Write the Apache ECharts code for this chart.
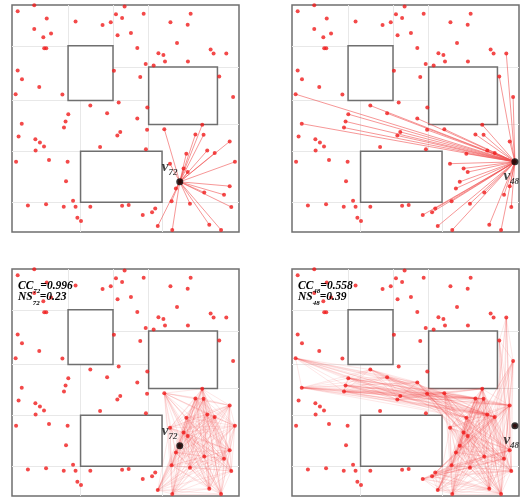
<!DOCTYPE html>
<html>
<head>
<meta charset="utf-8">
<script src="https://cdn.jsdelivr.net/npm/echarts@6/dist/echarts.min.js"></script>
<style>
html, body { margin: 0; padding: 0; background: #fff; }
#chart { width: 521px; height: 501px; }
</style>
</head>
<body>
<div id="chart"></div>
<script>
// node positions inside the square field (0..100), y measured downward; ids are 1-based
var points = [
  [2.5, 2.8], [9.8, 0.1], [15.3, 5.9], [9.8, 10.6], [13.8, 14.2], [17.2, 12.6], [28.0, 7.3], [39.9, 8.8], [43.5, 7.6], [45.8, 4.1],
  [48.5, 5.7], [49.6, 0.7], [46.5, 13.3], [52.4, 12.3], [58.0, 3.8], [55.2, 18.9], [69.8, 7.6], [78.7, 3.8], [77.4, 8.7], [72.7, 16.7],
  [64.5, 21.3], [66.7, 22.0], [67.4, 24.9], [58.9, 26.0], [62.4, 26.7], [77.5, 24.9], [87.5, 19.6], [88.8, 21.4], [94.4, 21.4], [14.2, 19.1],
  [15.1, 19.1], [2.5, 28.9], [4.4, 32.7], [12.0, 36.1], [1.6, 39.3], [22.2, 39.4], [44.9, 29.0], [56.5, 31.7], [91.3, 31.5], [97.4, 40.5],
  [34.5, 44.3], [47.0, 43.0], [41.9, 47.7], [59.6, 45.2], [55.2, 50.0], [24.8, 48.1], [23.6, 51.3], [22.9, 54.0], [4.3, 52.3], [2.9, 57.9],
  [10.3, 59.1], [12.3, 60.6], [14.1, 62.3], [10.4, 64.1], [47.7, 55.9], [46.4, 57.5], [38.8, 62.6], [59.0, 63.6], [59.5, 55.0], [67.1, 54.7],
  [83.8, 52.8], [80.8, 57.0], [84.4, 57.2], [95.9, 60.1], [86.0, 64.1], [89.3, 65.2], [98.2, 69.1], [76.8, 65.5], [69.6, 69.9], [75.6, 72.0],
  [77.4, 73.6], [73.9, 77.9], [72.2, 80.8], [1.8, 69.1], [16.3, 68.3], [24.5, 69.1], [23.8, 77.6], [26.9, 86.2], [28.0, 88.9], [22.8, 88.9],
  [15.0, 87.8], [7.0, 88.3], [34.5, 88.9], [48.5, 88.4], [51.4, 88.1], [57.6, 92.5], [61.7, 91.3], [63.1, 89.7], [28.8, 93.7], [30.4, 95.2],
  [64.2, 97.4], [70.6, 99.1], [70.3, 86.5], [78.4, 87.5], [84.7, 82.6], [93.4, 83.6], [95.9, 79.8], [96.6, 89.0], [86.9, 96.8], [92.1, 99.1]
];

// obstacles: [x1, y1, x2, y2]
var obstacles = [
  [24.7, 18.0, 44.5, 42.1],
  [60.2, 27.3, 90.5, 52.6],
  [30.2, 64.4, 66.1, 86.9]
];

// faint cell boundaries of the free space
var partitionLines = [
  [[24.7, 0], [24.7, 18.0]], [[44.5, 0], [44.5, 18.0]], [[60.2, 0], [60.2, 27.3]],
  [[0, 18.0], [24.7, 18.0]], [[44.5, 27.3], [60.2, 27.3]], [[90.5, 27.3], [100, 27.3]],
  [[0, 42.1], [24.7, 42.1]], [[44.5, 42.1], [60.2, 42.1]], [[30.2, 42.1], [30.2, 64.4]],
  [[60.2, 52.6], [60.2, 64.4]], [[90.5, 52.6], [100, 52.6]], [[0, 64.4], [30.2, 64.4]],
  [[0, 86.9], [30.2, 86.9]], [[66.1, 86.9], [100, 86.9]], [[30.2, 86.9], [30.2, 100]],
  [[66.1, 86.9], [66.1, 100]]
];

// visible neighbours of the two highlighted nodes (point ids)
var nbrs72 = [60, 61, 62, 63, 64, 65, 66, 67, 68, 69, 70, 71, 73, 91, 92, 93, 94, 95, 96, 97, 98, 99, 100];
var nbrs48 = [29, 39, 40, 64, 65, 66, 61, 62, 63, 68, 60, 59, 45, 55, 56, 43, 41, 46, 47, 48, 49, 35,
              69, 70, 71, 72, 73, 93, 94, 95, 96, 97, 98, 99, 100, 92, 91, 86, 87, 88];

var nodeIds = { '72': 72, '48': 67 };
var ccValues = { '72': '0.996', '48': '0.558' };
var nsValues = { '72': '0.23', '48': '0.39' };

var panels = [
  { v: '72', nbrs: nbrs72, mesh: false, left: 12, top: 5 },
  { v: '48', nbrs: nbrs48, mesh: false, left: 292, top: 5 },
  { v: '72', nbrs: nbrs72, mesh: true, left: 12, top: 269 },
  { v: '48', nbrs: nbrs48, mesh: true, left: 292, top: 269 }
];

function pt(id) { return points[id - 1]; }

// true when segment a-b passes through the inside of an obstacle
function hitsRect(a, b, r) {
  var eps = 0.2;
  var x1 = r[0] + eps, y1 = r[1] + eps, x2 = r[2] - eps, y2 = r[3] - eps;
  var dx = b[0] - a[0], dy = b[1] - a[1];
  var p = [-dx, dx, -dy, dy];
  var q = [a[0] - x1, x2 - a[0], a[1] - y1, y2 - a[1]];
  var t0 = 0, t1 = 1;
  for (var i = 0; i < 4; i++) {
    if (p[i] === 0) {
      if (q[i] < 0) return false;
    } else {
      var t = q[i] / p[i];
      if (p[i] < 0) { if (t > t1) return false; if (t > t0) t0 = t; }
      else { if (t < t0) return false; if (t < t1) t1 = t; }
    }
  }
  return t0 < t1;
}
function visible(a, b) {
  for (var k = 0; k < obstacles.length; k++) {
    if (hitsRect(a, b, obstacles[k])) return false;
  }
  return true;
}

var chart = echarts.init(document.getElementById('chart'));

var grids = [], xAxes = [], yAxes = [], series = [], graphics = [];

panels.forEach(function (pn, i) {
  grids.push({ left: pn.left, top: pn.top, width: 227, height: 227, show: true,
    borderColor: '#6f6f6f', borderWidth: 1.5, backgroundColor: '#fff' });
  xAxes.push({ gridIndex: i, type: 'value', min: 0, max: 100, show: false });
  yAxes.push({ gridIndex: i, type: 'value', min: 0, max: 100, inverse: true, show: false });

  series.push({
    type: 'lines', coordinateSystem: 'cartesian2d', xAxisIndex: i, yAxisIndex: i,
    silent: true, z: 1,
    lineStyle: { color: '#e8e8e8', width: 1, opacity: 1 },
    data: partitionLines.map(function (s) { return { coords: s }; })
  });

  series.push({
    type: 'custom', coordinateSystem: 'cartesian2d', xAxisIndex: i, yAxisIndex: i,
    silent: true, z: 2,
    renderItem: function (params, api) {
      var p1 = api.coord([api.value(0), api.value(1)]);
      var p2 = api.coord([api.value(2), api.value(3)]);
      return {
        type: 'rect',
        shape: { x: Math.min(p1[0], p2[0]), y: Math.min(p1[1], p2[1]),
                 width: Math.abs(p2[0] - p1[0]), height: Math.abs(p2[1] - p1[1]) },
        style: { fill: '#fff', stroke: '#6f6f6f', lineWidth: 1.5 }
      };
    },
    data: obstacles
  });

  var node = pt(nodeIds[pn.v]);
  var edges = [];
  if (!pn.mesh) {
    pn.nbrs.forEach(function (id) { edges.push({ coords: [node, pt(id)] }); });
  } else {
    for (var a = 0; a < pn.nbrs.length; a++) {
      for (var b = a + 1; b < pn.nbrs.length; b++) {
        var pa = pt(pn.nbrs[a]), pb = pt(pn.nbrs[b]);
        if (visible(pa, pb)) edges.push({ coords: [pa, pb] });
      }
    }
  }
  series.push({
    type: 'lines', coordinateSystem: 'cartesian2d', xAxisIndex: i, yAxisIndex: i,
    silent: true, z: 3,
    lineStyle: pn.mesh
      ? { color: '#f04848', width: 0.6, opacity: 0.22 }
      : { color: '#f05050', width: 0.8, opacity: 0.75 },
    data: edges
  });

  series.push({
    type: 'scatter', xAxisIndex: i, yAxisIndex: i, silent: true, z: 4,
    symbolSize: 4, itemStyle: { color: '#f01c1c' },
    data: points
  });

  var labelPos = pn.v === '72' ? [-14.5, -19] : [-8, 10];
  series.push({
    type: 'scatter', xAxisIndex: i, yAxisIndex: i, silent: true, z: 6,
    symbolSize: 7, itemStyle: { color: '#000' },
    label: {
      show: true, position: labelPos,
      formatter: '{v|v}{s|' + pn.v + '}',
      rich: {
        v: { fontFamily: 'Liberation Serif', fontStyle: 'italic', fontWeight: 'bold',
             fontSize: 15, lineHeight: 15, color: '#111', verticalAlign: 'top' },
        s: { fontFamily: 'Liberation Serif', fontStyle: 'italic', fontWeight: 'bold',
             fontSize: 9, lineHeight: 10, color: '#111', verticalAlign: 'top', padding: [9, 0, 0, 0] }
      }
    },
    data: [node]
  });

  if (pn.mesh) {
    var rich = {
      a: { fontFamily: 'Liberation Serif', fontStyle: 'italic', fontWeight: 'bold',
           fontSize: 11.5, lineHeight: 13, color: '#111', verticalAlign: 'top' },
      s: { fontFamily: 'Liberation Serif', fontStyle: 'italic', fontWeight: 'bold',
           fontSize: 7, lineHeight: 7, color: '#111', verticalAlign: 'top', padding: [8, 0, 0, 0] }
    };
    graphics.push({
      type: 'text', left: pn.left + 6, top: pn.top + 11, z: 20, silent: true,
      style: { text: '{a|CC}{s|' + pn.v + '}{a|=' + ccValues[pn.v] + '}', rich: rich }
    });
    graphics.push({
      type: 'text', left: pn.left + 6, top: pn.top + 22.5, z: 20, silent: true,
      style: { text: '{a|NS}{s|' + pn.v + '}{a|=' + nsValues[pn.v] + '}', rich: rich }
    });
  }
});

chart.setOption({
  animation: false,
  backgroundColor: '#fff',
  grid: grids,
  xAxis: xAxes,
  yAxis: yAxes,
  series: series,
  graphic: graphics
});
</script>
</body>
</html>
